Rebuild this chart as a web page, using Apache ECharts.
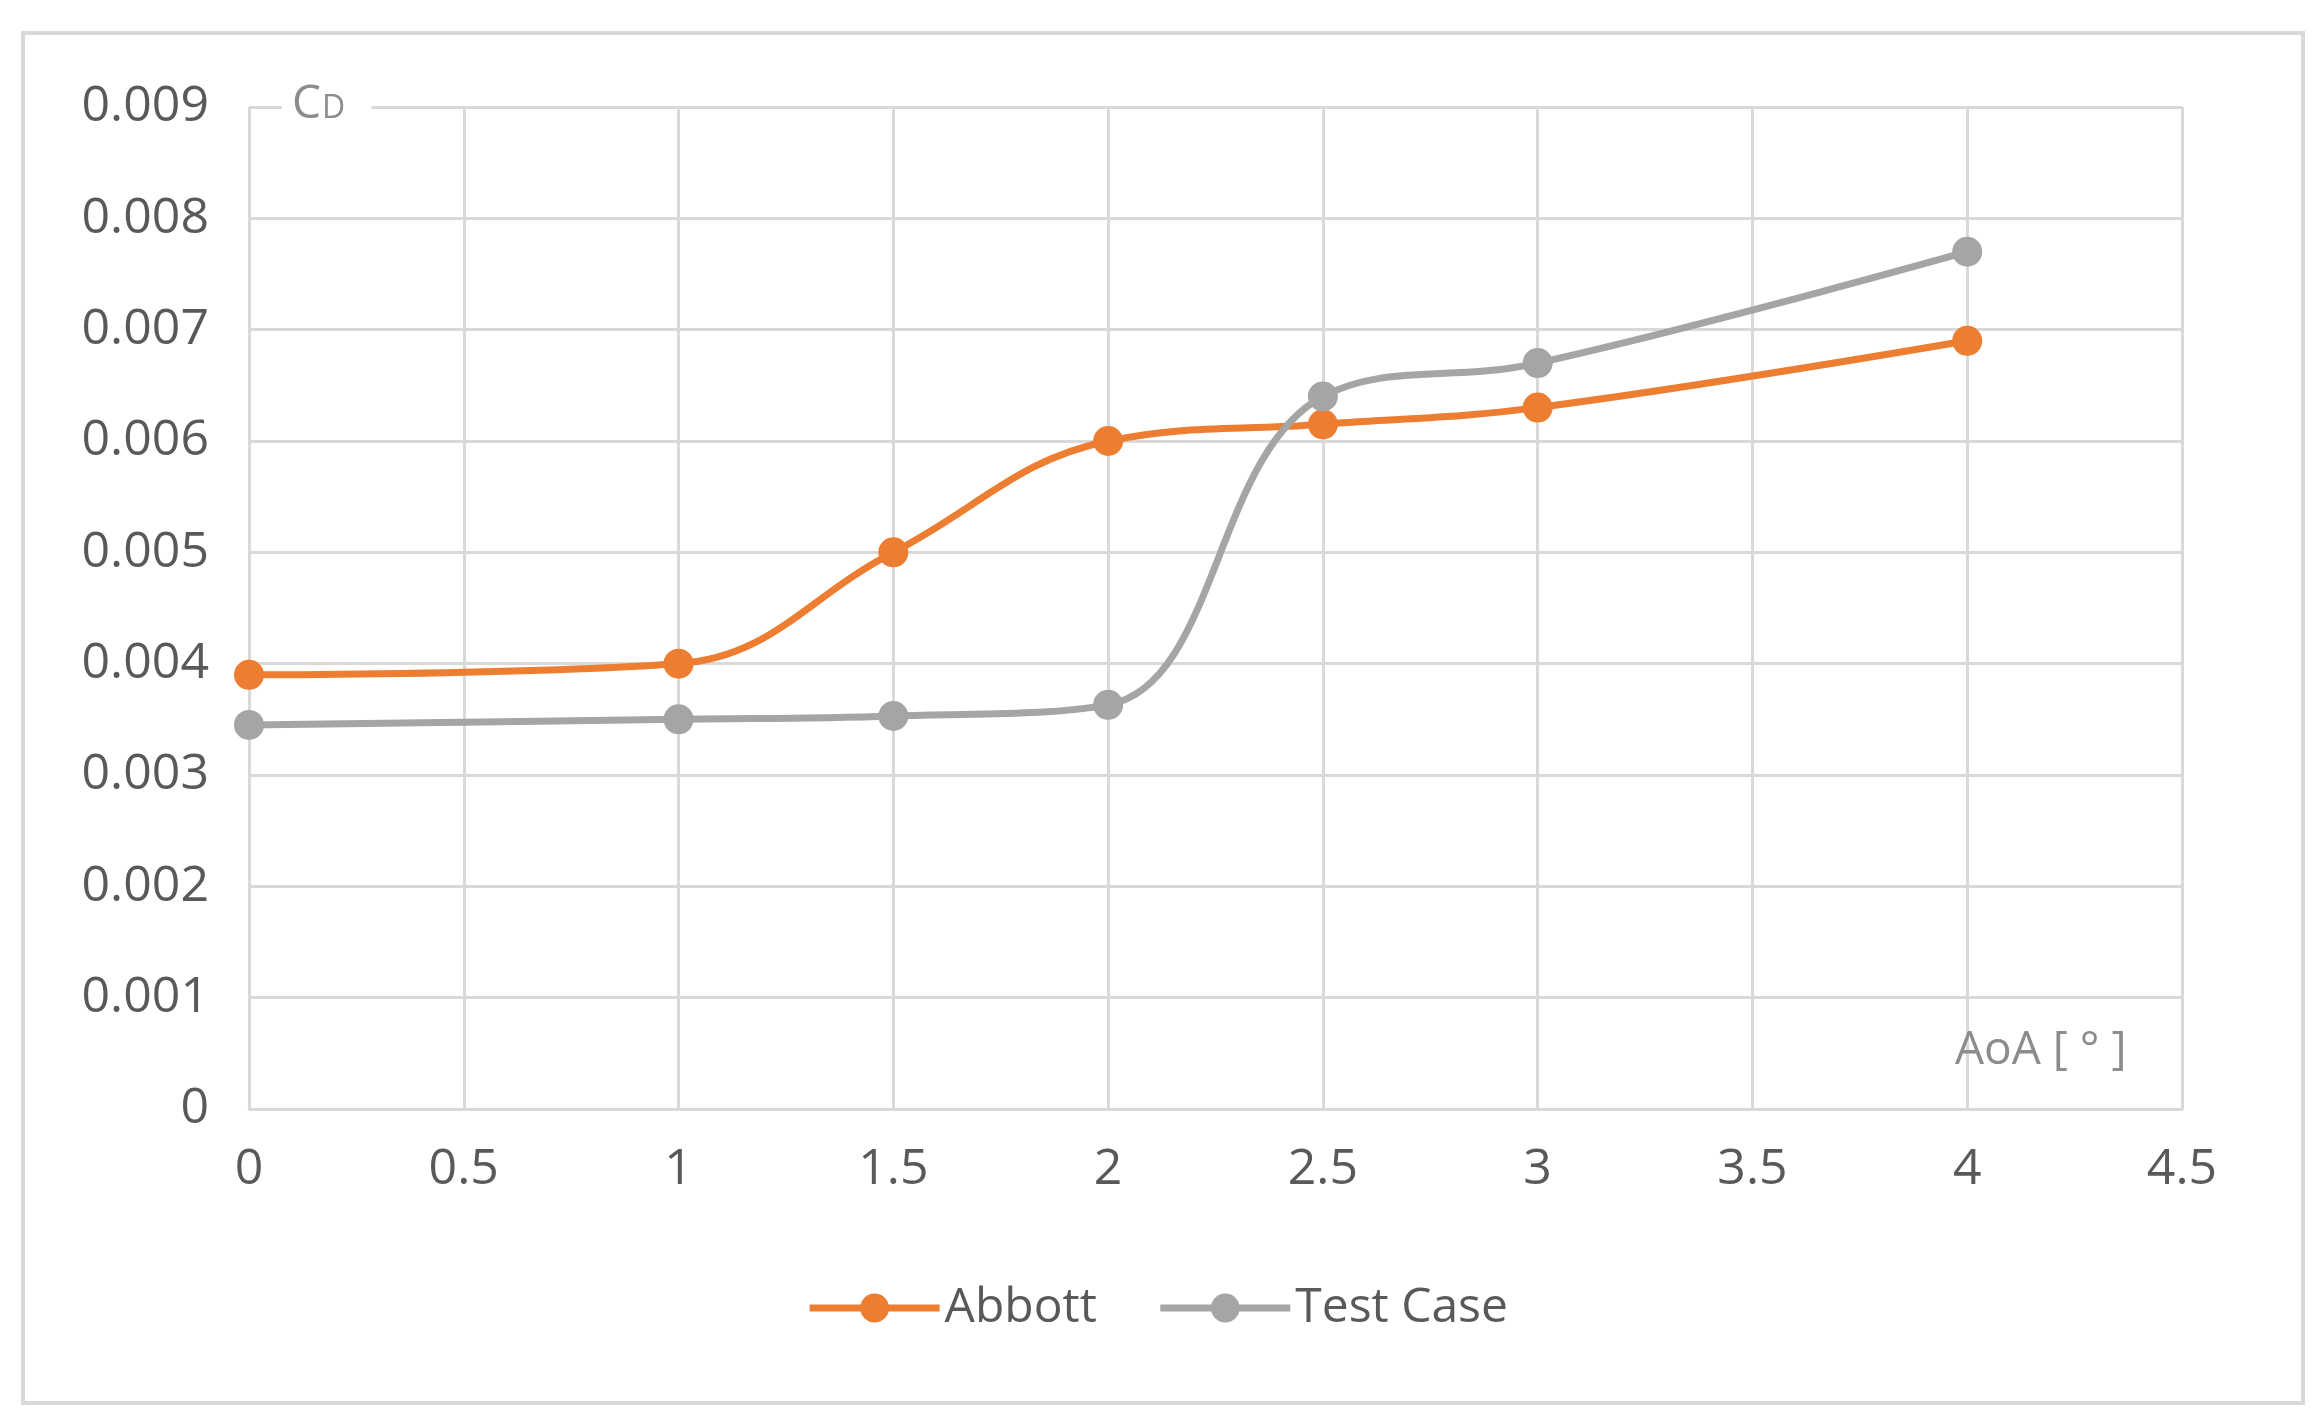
<!DOCTYPE html>
<html><head><meta charset="utf-8">
<script src="https://cdn.jsdelivr.net/npm/echarts@6/dist/echarts.min.js"></script>
<style>html,body{margin:0;padding:0;background:#fff}#c{width:2314px;height:1427px}</style>
</head><body><div id="c"></div>
<script>
var aoa = [0, 1, 1.5, 2, 2.5, 3, 4];
var abbott = [0.0039, 0.0040, 0.0050, 0.0060, 0.00615, 0.0063, 0.0069];
var testCase = [0.00345, 0.0035, 0.00353, 0.00363, 0.0064, 0.0067, 0.0077];
function pairs(xs, ys){ return xs.map(function(x,i){ return [x, ys[i]]; }); }

var chart = echarts.init(document.getElementById('c'));
var font = 'Open Sans, Noto Sans, sans-serif';
var option = {
  animation: false,
  grid: {left: 249, right: 132, top: 107, bottom: 318},
  xAxis: {
    type: 'value', min: 0, max: 4.5, interval: 0.5,
    axisLine: {show: true, lineStyle: {color: '#d9d9d9', width: 3}},
    axisTick: {show: false},
    splitLine: {show: true, lineStyle: {color: '#d9d9d9', width: 3}},
    axisLabel: {fontSize: 50, color: '#595959', fontFamily: font, margin: 36}
  },
  yAxis: {
    type: 'value', min: 0, max: 0.009, interval: 0.001,
    axisLine: {show: false}, axisTick: {show: false},
    splitLine: {lineStyle: {color: '#d9d9d9', width: 3}},
    axisLabel: {fontSize: 50, color: '#595959', fontFamily: font, margin: 40,
      formatter: function(v){ return v === 0 ? '0' : v.toFixed(3); }}
  },
  legend: {
    bottom: 90, left: 'center', itemWidth: 130, itemHeight: 36, itemGap: 60,
    lineStyle: {width: 7},
    textStyle: {fontSize: 48, color: '#595959', fontFamily: font},
    data: ['Abbott', 'Test Case']
  },
  series: [
    {name: 'Abbott', type: 'line', smooth: 0.4, data: pairs(aoa, abbott), symbol: 'circle', symbolSize: 30,
     itemStyle: {color: '#ED7D31'}, lineStyle: {color: '#ED7D31', width: 7}},
    {name: 'Test Case', type: 'line', smooth: 0.4, data: pairs(aoa, testCase), symbol: 'circle', symbolSize: 30,
     itemStyle: {color: '#A5A5A5'}, lineStyle: {color: '#A5A5A5', width: 7}}
  ],
  graphic: [
    {type: 'rect', shape: {x: 23, y: 33, width: 2280, height: 1370}, style: {fill: 'none', stroke: '#d9d9d9', lineWidth: 4}, z: 100},
    {type: 'text', left: 282, top: 82, z: 100, style: {text: 'C', font: '46px ' + font, fill: '#8c8c8c', backgroundColor: '#fff', padding: [0, 2, 0, 10]}},
    {type: 'text', left: 322, top: 93, z: 100, style: {text: 'D', font: '32px ' + font, fill: '#8c8c8c', backgroundColor: '#fff', padding: [0, 26, 0, 0]}},
    {type: 'text', left: 1955, top: 1028, z: 100, style: {text: 'AoA [ ° ]', font: '46px ' + font, fill: '#8c8c8c'}}
  ]
};
chart.setOption(option);
</script></body></html>
